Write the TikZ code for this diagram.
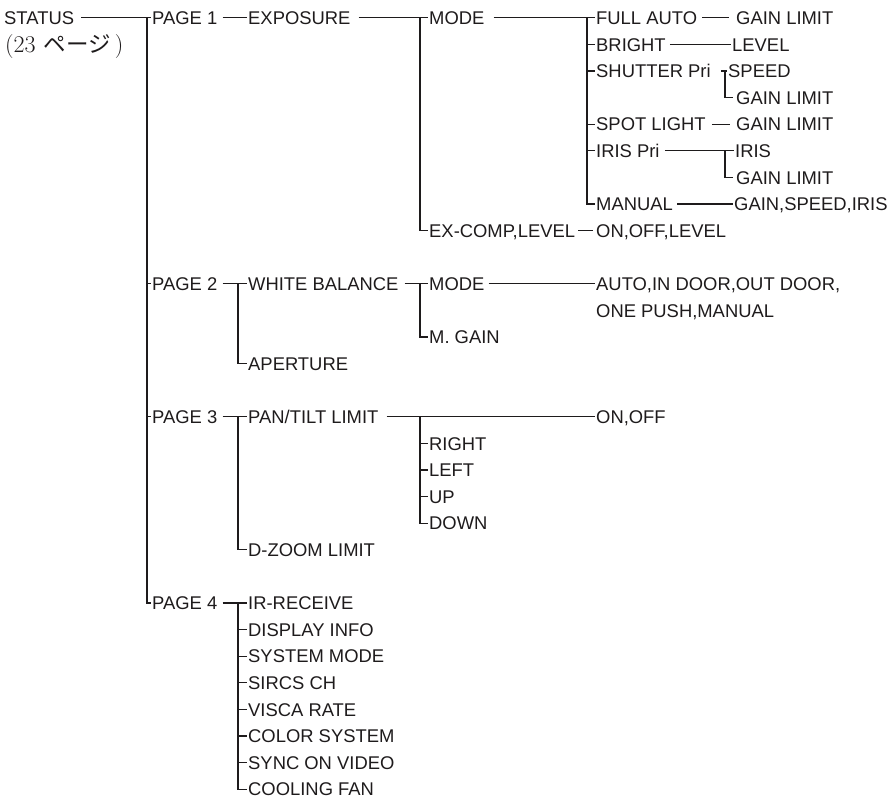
\documentclass[tikz,border=0pt]{standalone}
\usepackage{fontspec}
\setsansfont{Liberation Sans}
\newfontfamily\cjk{Noto Sans CJK JP}
\definecolor{menuInk}{RGB}{30,27,28}

\begin{document}
\begin{tikzpicture}[x=1pt,y=-26.6pt,
    menu/.style={anchor=west,inner xsep=1pt,inner ysep=0pt,text height=13.5pt,text depth=0pt,
      font=\sffamily\fontsize{18.4}{20}\selectfont,text=menuInk},
    link/.style={draw=menuInk,line width=1.15pt}]
  \useasboundingbox (0,-0.67) rectangle (893,29.367);

  % bus lines
  \coordinate (ba) at (147,0);
  \coordinate (bb) at (238,0);
  \coordinate (bc) at (420,0);
  \coordinate (bd) at (587,0);
  \coordinate (be) at (725,0);

  % root
  \node[menu] (status) at (3,0) {STATUS};
  \node[menu,font=\rmfamily\fontsize{24}{26}\selectfont,text height=17pt] (pagenote) at (4,1)
    {(23\hspace{8pt}{\cjk\fontsize{22.5}{24}\selectfont ページ}\hspace{4pt})};

  % pages
  \node[menu] (p1) at (151,0) {PAGE 1};
  \node[menu] (p2) at (151,10) {PAGE 2};
  \node[menu] (p3) at (151,15) {PAGE 3};
  \node[menu] (p4) at (151,22) {PAGE 4};

  % page items
  \node[menu] (expo) at (247,0) {EXPOSURE};
  \node[menu] (wb) at (247,10) {WHITE BALANCE};
  \node[menu] (aper) at (247,13) {APERTURE};
  \node[menu] (pt) at (247,15) {PAN/TILT LIMIT};
  \node[menu] (dz) at (247,20) {D-ZOOM LIMIT};
  \node[menu] (ir) at (247,22) {IR-RECEIVE};
  \node[menu] (disp) at (247,23) {DISPLAY INFO};
  \node[menu] (sysm) at (247,24) {SYSTEM MODE};
  \node[menu] (sircs) at (247,25) {SIRCS CH};
  \node[menu] (visca) at (247,26) {VISCA RATE};
  \node[menu] (csys) at (247,27) {COLOR SYSTEM};
  \node[menu] (sync) at (247,28) {SYNC ON VIDEO};
  \node[menu] (fan) at (247,29) {COOLING FAN};

  % third level
  \node[menu] (emode) at (428,0) {MODE};
  \node[menu] (excomp) at (428,8) {EX-COMP,LEVEL};
  \node[menu] (wmode) at (428,10) {MODE};
  \node[menu] (mgain) at (428,12) {M. GAIN};
  \node[menu] (right) at (428,16) {RIGHT};
  \node[menu] (left) at (428,17) {LEFT};
  \node[menu] (up) at (428,18) {UP};
  \node[menu] (down) at (428,19) {DOWN};

  % fourth level
  \node[menu] (fauto) at (595,0) {FULL AUTO};
  \node[menu] (bright) at (595,1) {BRIGHT};
  \node[menu] (shut) at (595,2) {SHUTTER Pri};
  \node[menu] (spot) at (595,4) {SPOT LIGHT};
  \node[menu] (irisp) at (595,5) {IRIS Pri};
  \node[menu] (manual) at (595,7) {MANUAL};
  \node[menu] (exval) at (595,8) {ON,OFF,LEVEL};
  \node[menu] (wbval) at (595,10) {AUTO,IN DOOR,OUT DOOR,};
  \node[menu] (wbmore) at (595,11) {ONE PUSH,MANUAL};
  \node[menu] (onoff) at (595,15) {ON,OFF};

  % fifth level
  \node[menu] (glfa) at (735,0) {GAIN LIMIT};
  \node[menu] (lvl) at (731,1) {LEVEL};
  \node[menu] (speed) at (727,2) {SPEED};
  \node[menu] (glsh) at (735,3) {GAIN LIMIT};
  \node[menu] (glsp) at (735,4) {GAIN LIMIT};
  \node[menu] (iris) at (734,5) {IRIS};
  \node[menu] (glir) at (735,6) {GAIN LIMIT};
  \node[menu] (gsi) at (733,7) {GAIN,SPEED,IRIS};

  % status -> pages
  \draw[link] ([xshift=6pt]status.east) -- (p1.west);
  \draw[link] (p1.west -| ba) |- (p4.west);
  \foreach \n in {p2,p3}
    \draw[link] (\n.west -| ba) -- (\n.west);

  % pages -> items
  \draw[link] ([xshift=4pt]p1.east) -- (expo.west);
  \draw[link] ([xshift=4pt]p2.east) -- (wb.west);
  \draw[link] (wb.west -| bb) |- (aper.west);
  \draw[link] ([xshift=4pt]p3.east) -- (pt.west);
  \draw[link] (pt.west -| bb) |- (dz.west);
  \draw[link] ([xshift=4pt]p4.east) -- (ir.west);
  \draw[link] (ir.west -| bb) |- (fan.west);
  \foreach \n in {disp,sysm,sircs,visca,csys,sync}
    \draw[link] (\n.west -| bb) -- (\n.west);

  % items -> third level
  \draw[link] ([xshift=7pt]expo.east) -- (emode.west);
  \draw[link] (emode.west -| bc) |- (excomp.west);
  \draw[link] ([xshift=5pt]wb.east) -- (wmode.west);
  \draw[link] (wmode.west -| bc) |- (mgain.west);
  \draw[link] ([xshift=7pt]pt.east) -- (onoff.west);
  \draw[link] (pt.west -| bc) |- (down.west);
  \foreach \n in {right,left,up}
    \draw[link] (\n.west -| bc) -- (\n.west);

  % third -> fourth level
  \draw[link] ([xshift=8pt]emode.east) -- (fauto.west);
  \draw[link] (fauto.west -| bd) |- (manual.west);
  \foreach \n in {bright,shut,spot,irisp}
    \draw[link] (\n.west -| bd) -- (\n.west);
  \draw[link] ([xshift=2pt]excomp.east) -- ([xshift=-2pt]exval.west);
  \draw[link] ([xshift=3pt]wmode.east) -- (wbval.west);

  % fourth -> fifth level
  \draw[link] ([xshift=4pt]fauto.east) -- ([xshift=-6pt]glfa.west);
  \draw[link] ([xshift=3pt]bright.east) -- (lvl.west);
  \draw[link] ([xshift=9pt]shut.east) -- (speed.west);
  \draw[link] (speed.west -| be) |- ([xshift=-2pt]glsh.west);
  \draw[link] ([xshift=5pt]spot.east) -- ([xshift=-5pt]glsp.west);
  \draw[link] ([xshift=4pt]irisp.east) -- (iris.west);
  \draw[link] (iris.west -| be) |- ([xshift=-2pt]glir.west);
  \draw[link] ([xshift=3pt]manual.east) -- (gsi.west);
\end{tikzpicture}
\end{document}
